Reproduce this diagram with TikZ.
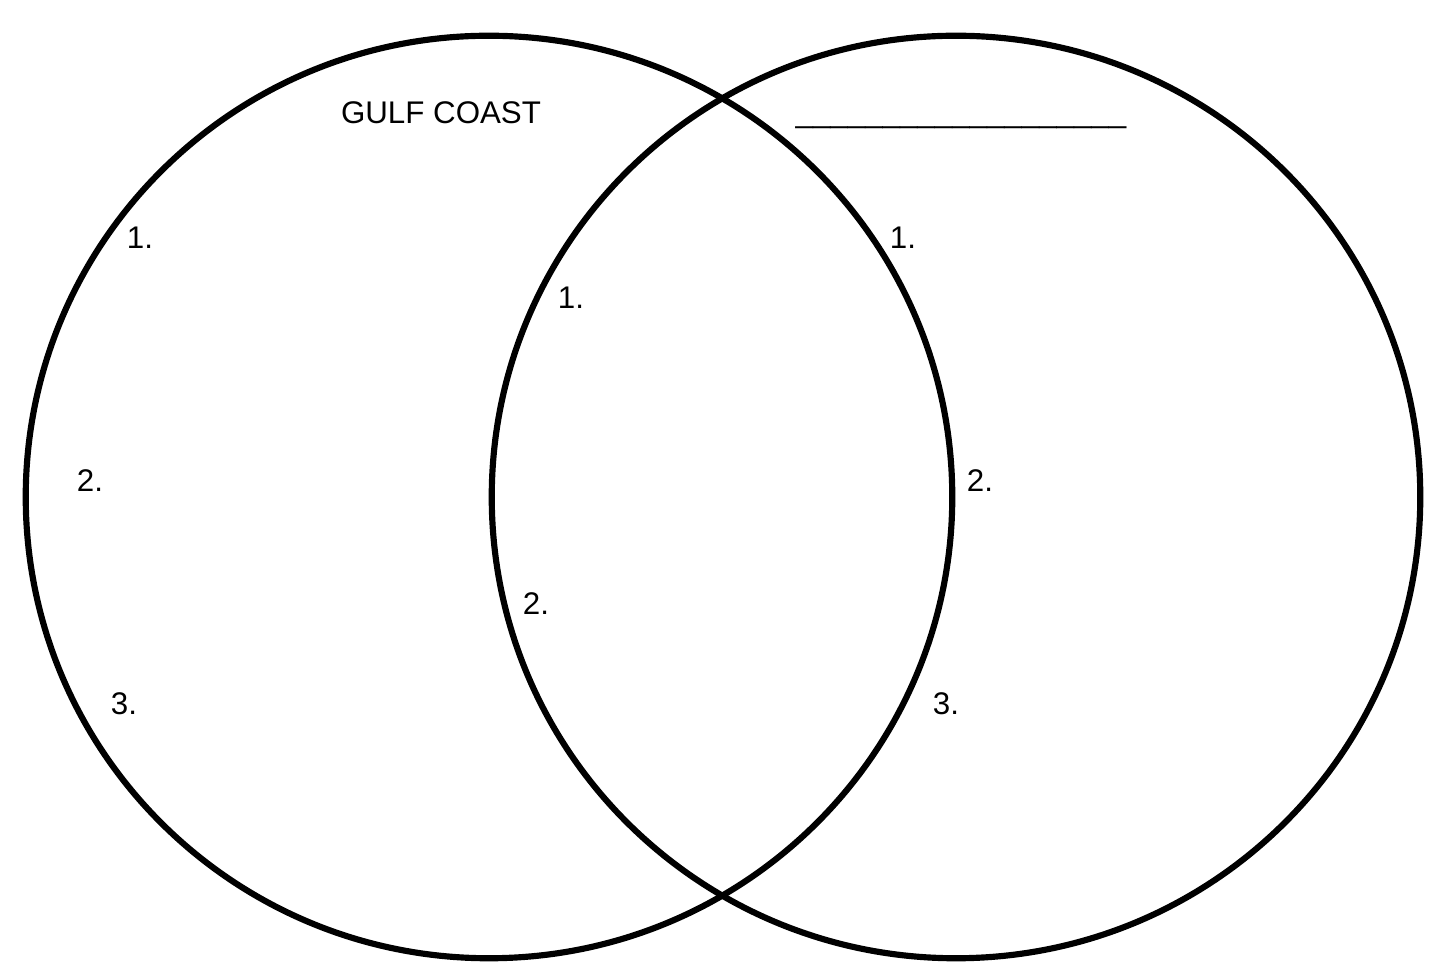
\documentclass[tikz,border=0pt]{standalone}
\usepackage{fontspec}
\setmainfont{Liberation Sans}
\usetikzlibrary{positioning}
\tikzset{
  ring/.style={line width=1.75pt, black},
  num/.style={inner sep=0pt, font=\fontsize{8.9pt}{10pt}\selectfont}
}

\begin{document}
\begin{tikzpicture}[x=0.01cm, y=-0.01cm, font=\fontsize{8.9pt}{10pt}\selectfont]
  \useasboundingbox (0,0) rectangle (1434,962);
  \fill[white] (0,0) rectangle (1434,962);
  % the two circles, same size, overlapping by half
  \draw[ring] (489,497) ellipse [x radius=4.63cm, y radius=4.61cm];
  \draw[ring] (956,497) ellipse [x radius=4.64cm, y radius=4.61cm];
  % titles
  \node[num] (titleL) at (441,113) {GULF COAST};
  \node[num, anchor=base] (titleR) at (961,123) {\_\_\_\_\_\_\_\_\_\_\_\_\_\_\_\_\_\_\_};
  % left side
  \node[num] (l1) at (140,238) {1.};
  \node[num] (l2) at (90,481) {2.};
  \node[num] (l3) at (124,704) {3.};
  % both
  \node[num] (m1) at (571,298) {1.};
  \node[num] (m2) at (536,604) {2.};
  % right side
  \node[num] (r1) at (903,238) {1.};
  \node[num] (r2) at (980,481) {2.};
  \node[num] (r3) at (946,704) {3.};
\end{tikzpicture}
\end{document}
